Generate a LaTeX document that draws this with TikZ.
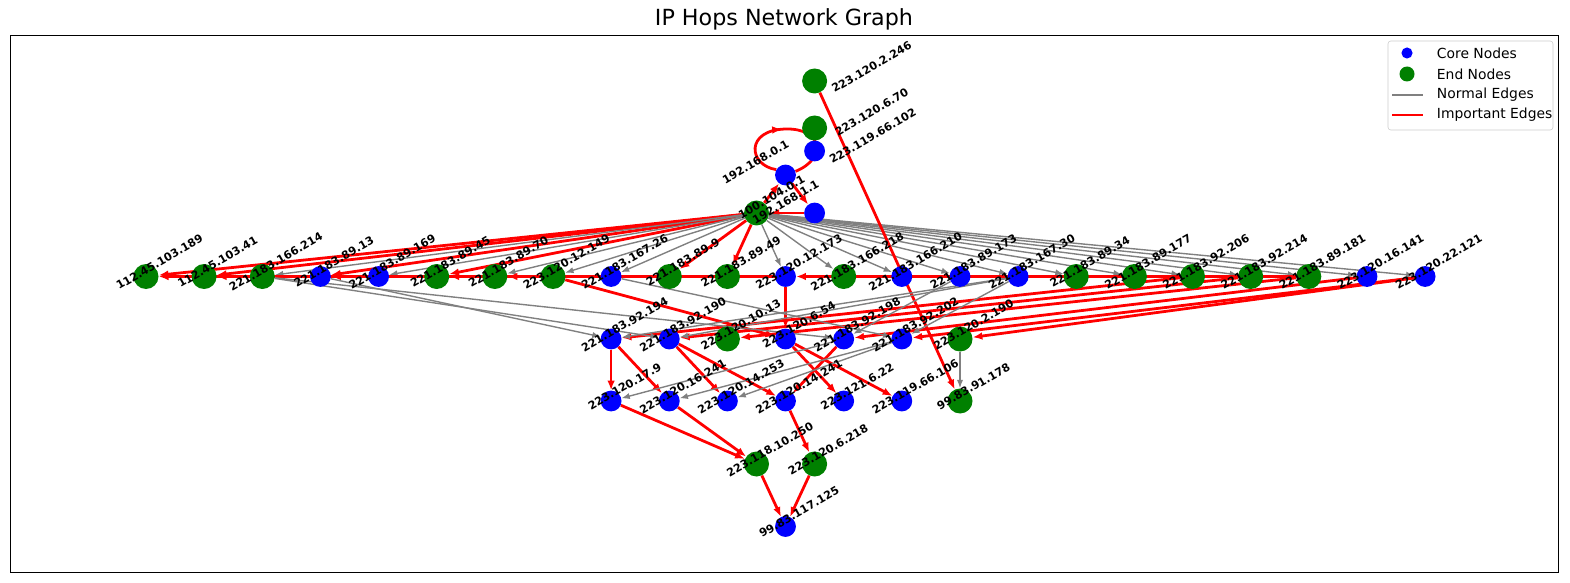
\documentclass[tikz,border=0pt]{standalone}
\usepackage{fontspec}
\setmainfont{DejaVu Sans}
\usepackage{tikz}
\usetikzlibrary{arrows.meta,calc,decorations.markings}
\definecolor{coreblue}{RGB}{0,0,255}
\definecolor{endgreen}{RGB}{0,128,0}
\definecolor{normgray}{RGB}{128,128,128}
\pgfdeclarelayer{edges}
\pgfsetlayers{edges,main}
\tikzset{
    core/.style={circle, fill=coreblue, inner sep=0pt, minimum size=15pt},
    endnode/.style={circle, fill=endgreen, inner sep=0pt, minimum size=18pt},
    hoplabel/.style={font=\fontsize{8}{9}\selectfont\bfseries, rotate=30, inner sep=0pt},
    normal/.style={draw=normgray, line width=1pt, -{Latex[length=6pt,width=4.5pt]}},
    important/.style={draw=red, line width=2pt, -{Latex[length=7pt,width=5.5pt]}}}

\begin{document}
\begin{tikzpicture}[x=0.72pt,y=-0.72pt]
\useasboundingbox (0,0) rectangle (1570,583);
\node[font=\fontsize{16}{19}\selectfont] (title) at (784,19) {IP Hops Network Graph};
\draw[line width=0.6pt] (10,35) rectangle (1558,572);
% top hops
\node[endnode] (Top1) at (814.6,81) {};
\node[endnode] (Top2) at (814.6,128) {};
\node[core] (Top3) at (814.6,151) {};
\node[core] (Src) at (785.5,175) {};
\node[endnode] (Isp) at (756.5,213) {};
\node[core] (Gw) at (814.6,213) {};
% first row
\node[endnode] (R1) at (146.0,276.5) {};
\node[endnode] (R2) at (204.1,276.5) {};
\node[endnode] (R3) at (262.3,276.5) {};
\node[core] (R4) at (320.4,276.5) {};
\node[core] (R5) at (378.6,276.5) {};
\node[endnode] (R6) at (436.7,276.5) {};
\node[endnode] (R7) at (494.8,276.5) {};
\node[endnode] (R8) at (553.0,276.5) {};
\node[core] (R9) at (611.1,276.5) {};
\node[endnode] (R10) at (669.3,276.5) {};
\node[endnode] (R11) at (727.4,276.5) {};
\node[core] (R12) at (785.5,276.5) {};
\node[endnode] (R13) at (843.7,276.5) {};
\node[core] (R14) at (901.8,276.5) {};
\node[core] (R15) at (960.0,276.5) {};
\node[core] (R16) at (1018.1,276.5) {};
\node[endnode] (R17) at (1076.2,276.5) {};
\node[endnode] (R18) at (1134.4,276.5) {};
\node[endnode] (R19) at (1192.5,276.5) {};
\node[endnode] (R20) at (1250.7,276.5) {};
\node[endnode] (R21) at (1308.8,276.5) {};
\node[core] (R22) at (1367.0,276.5) {};
\node[core] (R23) at (1425.1,276.5) {};
% second row
\node[core] (S1) at (611.1,339) {};
\node[core] (S2) at (669.3,339) {};
\node[endnode] (S3) at (727.4,339) {};
\node[core] (S4) at (785.5,339) {};
\node[core] (S5) at (843.7,339) {};
\node[core] (S6) at (901.8,339) {};
\node[endnode] (S7) at (960.0,339) {};
% third row
\node[core] (T1) at (611.1,401) {};
\node[core] (T2) at (669.3,401) {};
\node[core] (T3) at (727.4,401) {};
\node[core] (T4) at (785.5,401) {};
\node[core] (T5) at (843.7,401) {};
\node[core] (T6) at (901.8,401) {};
\node[endnode] (T7) at (960.0,401) {};
% last hops
\node[endnode] (U1) at (756.5,464) {};
\node[endnode] (U2) at (814.6,464) {};
\node[core] (Dst) at (785.5,526.5) {};
% labels
\node[hoplabel] (Top1txt) at ($(Top1)+(57,-14)$) {223.120.2.246};
\node[hoplabel] (Top2txt) at ($(Top2)+(57,-16)$) {223.120.6.70};
\node[hoplabel] (Top3txt) at ($(Top3)+(58,-15)$) {223.119.66.102};
\node[hoplabel] (Srctxt) at ($(Src)+(-30,-13)$) {192.168.0.1};
\node[hoplabel] (Isptxt) at ($(Isp)+(15,-16)$) {100.104.0.1};
\node[hoplabel] (Gwtxt) at ($(Gw)+(-29,-11)$) {192.168.1.1};
\node[hoplabel] (R1txt) at ($(R1)+(13.5,-14.5)$) {112.45.103.189};
\node[hoplabel] (R2txt) at ($(R2)+(13.5,-14.5)$) {112.45.103.41};
\node[hoplabel] (R3txt) at ($(R3)+(13.5,-14.5)$) {221.183.166.214};
\node[hoplabel] (R4txt) at ($(R4)+(13.5,-14.5)$) {221.183.89.13};
\node[hoplabel] (R5txt) at ($(R5)+(13.5,-14.5)$) {221.183.89.169};
\node[hoplabel] (R6txt) at ($(R6)+(13.5,-14.5)$) {221.183.89.45};
\node[hoplabel] (R7txt) at ($(R7)+(13.5,-14.5)$) {221.183.89.70};
\node[hoplabel] (R8txt) at ($(R8)+(13.5,-14.5)$) {223.120.12.149};
\node[hoplabel] (R9txt) at ($(R9)+(13.5,-14.5)$) {221.183.167.26};
\node[hoplabel] (R10txt) at ($(R10)+(13.5,-14.5)$) {221.183.89.9};
\node[hoplabel] (R11txt) at ($(R11)+(13.5,-14.5)$) {221.183.89.49};
\node[hoplabel] (R12txt) at ($(R12)+(13.5,-14.5)$) {223.120.12.173};
\node[hoplabel] (R13txt) at ($(R13)+(13.5,-14.5)$) {221.183.166.218};
\node[hoplabel] (R14txt) at ($(R14)+(13.5,-14.5)$) {221.183.166.210};
\node[hoplabel] (R15txt) at ($(R15)+(13.5,-14.5)$) {221.183.89.173};
\node[hoplabel] (R16txt) at ($(R16)+(13.5,-14.5)$) {221.183.167.30};
\node[hoplabel] (R17txt) at ($(R17)+(13.5,-14.5)$) {221.183.89.34};
\node[hoplabel] (R18txt) at ($(R18)+(13.5,-14.5)$) {221.183.89.177};
\node[hoplabel] (R19txt) at ($(R19)+(13.5,-14.5)$) {221.183.92.206};
\node[hoplabel] (R20txt) at ($(R20)+(13.5,-14.5)$) {221.183.92.214};
\node[hoplabel] (R21txt) at ($(R21)+(13.5,-14.5)$) {221.183.89.181};
\node[hoplabel] (R22txt) at ($(R22)+(13.5,-14.5)$) {223.120.16.141};
\node[hoplabel] (R23txt) at ($(R23)+(13.5,-14.5)$) {223.120.22.121};
\node[hoplabel] (S1txt) at ($(S1)+(13.5,-14.5)$) {221.183.92.194};
\node[hoplabel] (S2txt) at ($(S2)+(13.5,-14.5)$) {221.183.92.190};
\node[hoplabel] (S3txt) at ($(S3)+(13.5,-14.5)$) {223.120.10.13};
\node[hoplabel] (S4txt) at ($(S4)+(13.5,-14.5)$) {223.120.6.54};
\node[hoplabel] (S5txt) at ($(S5)+(13.5,-14.5)$) {221.183.92.198};
\node[hoplabel] (S6txt) at ($(S6)+(13.5,-14.5)$) {221.183.92.202};
\node[hoplabel] (S7txt) at ($(S7)+(13.5,-14.5)$) {223.120.2.190};
\node[hoplabel] (T1txt) at ($(T1)+(13.5,-14.5)$) {223.120.17.9};
\node[hoplabel] (T2txt) at ($(T2)+(13.5,-14.5)$) {223.120.16.241};
\node[hoplabel] (T3txt) at ($(T3)+(13.5,-14.5)$) {223.120.14.253};
\node[hoplabel] (T4txt) at ($(T4)+(13.5,-14.5)$) {223.120.14.241};
\node[hoplabel] (T5txt) at ($(T5)+(13.5,-14.5)$) {223.121.6.22};
\node[hoplabel] (T6txt) at ($(T6)+(13.5,-14.5)$) {223.119.66.106};
\node[hoplabel] (T7txt) at ($(T7)+(13.5,-14.5)$) {99.83.91.178};
\node[hoplabel] (U1txt) at ($(U1)+(13.5,-14.5)$) {223.118.10.250};
\node[hoplabel] (U2txt) at ($(U2)+(13.5,-14.5)$) {223.120.6.218};
\node[hoplabel] (Dsttxt) at ($(Dst)+(13.5,-14.5)$) {99.83.117.125};
% edges
\begin{pgfonlayer}{edges}
\coordinate (Lp) at (785.5,129);
\draw [red, line width=2pt, decoration={markings, mark=at position 0.47 with {\arrow{Latex[length=7pt,width=5.5pt]}}}, postaction={decorate}] (Src.150) .. controls (748,165) and (745,130) .. (Lp) .. controls (822,128) and (828,158) .. (Src.20);
\draw [important] (Isp) -- (Src);
\draw [important] (Src) -- (Gw);
\draw [important] (Gw) -- (Isp);
\draw [important] (Isp) -- (R1);
\draw [important] (Isp) -- (R2);
\draw [important] (Isp) -- (R4);
\draw [important] (Isp) -- (R6);
\draw [important] (Isp) -- (R10);
\draw [important] (Isp) -- (R11);
\draw [normal] (Isp) -- (R3);
\draw [normal] (Isp) -- (R5);
\draw [normal] (Isp) -- (R7);
\draw [normal] (Isp) -- (R8);
\draw [normal] (Isp) -- (R9);
\draw [normal] (Isp) -- (R12);
\draw [normal] (Isp) -- (R13);
\draw [normal] (Isp) -- (R14);
\draw [normal] (Isp) -- (R15);
\draw [normal] (Isp) -- (R16);
\draw [normal] (Isp) -- (R17);
\draw [normal] (Isp) -- (R18);
\draw [normal] (Isp) -- (R19);
\draw [normal] (Isp) -- (R20);
\draw [normal] (Isp) -- (R21);
\draw [normal] (Isp) -- (R22);
\draw [normal] (Isp) -- (R23);
\draw [important] (R3) -- (R1);
\draw [important] (R5) -- (R2);
\draw [important] (R7) -- (R4);
\draw [important] (R8) -- (R6);
\draw [important] (R12) -- (R7);
\draw [important] (R21) -- (R12);
\draw [important] (R8) -- (S4);
\draw [important] (R12) -- (S4);
\draw [important] (Top1) -- (T7);
\draw [important] (R19) -- (S1);
\draw [important] (R20) -- (S2);
\draw [important] (R21) -- (S3);
\draw [important] (R22) -- (S5);
\draw [important] (R23) -- (S6);
\draw [important] (R23) -- (S7);
\draw [normal] (R3) -- (S2);
\draw [normal] (R3) -- (S5);
\draw [normal] (R4) -- (S1);
\draw [normal] (R9) -- (S6);
\draw [normal] (R15) -- (S5);
\draw [normal] (R16) -- (S1);
\draw [normal] (R16) -- (S2);
\draw [normal] (R16) -- (S6);
\draw [important] (S1) -- (T1);
\draw [important] (S1) -- (T2);
\draw [important] (S2) -- (T3);
\draw [important] (S2) -- (T4);
\draw [important] (S4) -- (T5);
\draw [important] (S4) -- (T6);
\draw [important] (S5) -- (T4);
\draw [normal] (S5) -- (T1);
\draw [normal] (S6) -- (T2);
\draw [normal] (S6) -- (T3);
\draw [normal] (S7) -- (T7);
\draw [important] (T1) -- (U1);
\draw [important] (T2) -- (U1);
\draw [important] (T4) -- (U2);
\draw [important] (U1) -- (Dst);
\draw [important] (U2) -- (Dst);
\end{pgfonlayer}
% legend
\draw [draw=black!20, rounded corners=2pt, fill=white] (1388,41) rectangle (1553,130);
\node[core, minimum size=8pt] (lgcore) at (1407,53) {};
\node[endnode, minimum size=10.8pt] (lgend) at (1407,74) {};
\coordinate (lgna) at (1392,95);
\coordinate (lgnb) at (1423,95);
\coordinate (lgia) at (1392,115);
\coordinate (lgib) at (1423,115);
\draw [normgray, line width=2pt] (lgna) -- (lgnb);
\draw [red, line width=2pt] (lgia) -- (lgib);
\node[anchor=west, font=\fontsize{10}{12}\selectfont] (lgcoretxt) at (1432,53) {Core Nodes};
\node[anchor=west, font=\fontsize{10}{12}\selectfont] (lgendtxt) at (1432,74) {End Nodes};
\node[anchor=west, font=\fontsize{10}{12}\selectfont] (lgnormtxt) at (1432,95) {Normal Edges};
\node[anchor=west, font=\fontsize{10}{12}\selectfont] (lgimptxt) at (1432,115) {Important Edges};
\end{tikzpicture}
\end{document}
